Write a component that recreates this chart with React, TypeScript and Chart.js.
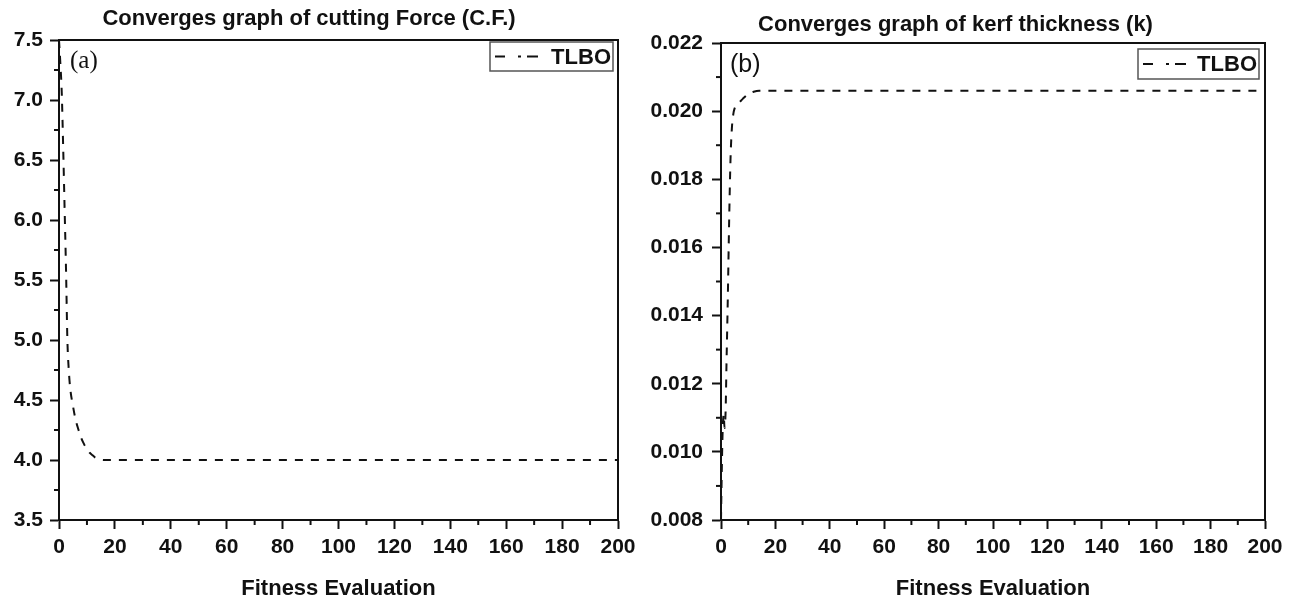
import React, { useEffect, useRef } from "react";
import { Chart, registerables } from "chart.js";
Chart.register(...registerables);

const leftTitle = "Converges graph of cutting Force (C.F.)";
const rightTitle = "Converges graph of kerf thickness (k)";
const xAxisTitle = "Fitness Evaluation";
const seriesLabel = "TLBO";
const leftPanel = "(a)";
const rightPanel = "(b)";

// Left: cutting force convergence
const leftX = [0, 0.5, 1, 1.5, 2, 2.5, 3, 3.5, 4, 5, 6, 7, 8, 9, 10, 11, 12, 13, 14, 16, 20, 200];
const leftY = [7.5, 7.3, 7.05, 6.6, 6.1, 5.6, 5.0, 4.75, 4.6, 4.45, 4.33, 4.25, 4.18, 4.13, 4.09, 4.06, 4.04, 4.02, 4.01, 4.0, 4.0, 4.0];

// Right: kerf thickness convergence
const rightX = [0, 0.3, 0.6, 1.0, 1.3, 1.7, 2.0, 2.5, 3.0, 3.5, 4, 4.5, 5, 6, 7, 8, 10, 12, 14, 200];
const rightY = [0.008, 0.0095, 0.0106, 0.0111, 0.0107, 0.0112, 0.0125, 0.0145, 0.0168, 0.0186, 0.0195, 0.0199, 0.02008, 0.0202, 0.02028, 0.02036, 0.0205, 0.02057, 0.0206, 0.0206];

const FONT = "'Liberation Sans', Arial, sans-serif";

type PanelOpts = {
  title: string;
  xs: number[];
  ys: number[];
  yMin: number;
  yMax: number;
  yStep: number;
  yDecimals: number;
  yAxisWidth: number;
  yLabelPad: number;
  padRight: number;
  titlePadTop: number;
  titlePadBottom: number;
  panel: string;
  panelFont: string;
  panelDx: number;
  panelY: number;
  legend: { insetR: number; insetT: number; w: number; h: number; sampleW: number };
};

function makeConfig(o: PanelOpts): any {
  const decor = {
    id: "decor",
    afterDraw(chart: any) {
      const ctx = chart.ctx;
      const ca = chart.chartArea;
      const xs = chart.scales.x;
      const ys = chart.scales.y;
      ctx.save();
      ctx.strokeStyle = "#111";
      ctx.lineWidth = 2;
      // frame top/right
      ctx.beginPath();
      ctx.moveTo(ca.left, ca.top);
      ctx.lineTo(ca.right, ca.top);
      ctx.lineTo(ca.right, ca.bottom);
      ctx.stroke();
      // minor ticks x
      for (let v = 10; v < 200; v += 20) {
        const p = xs.getPixelForValue(v);
        ctx.beginPath();
        ctx.moveTo(p, ca.bottom);
        ctx.lineTo(p, ca.bottom + 5);
        ctx.stroke();
      }
      // minor ticks y
      const n = Math.round((o.yMax - o.yMin) / o.yStep);
      for (let i = 0; i < n; i++) {
        const v = o.yMin + (i + 0.5) * o.yStep;
        const p = ys.getPixelForValue(v);
        ctx.beginPath();
        ctx.moveTo(ca.left, p);
        ctx.lineTo(ca.left - 5, p);
        ctx.stroke();
      }
      // panel label
      ctx.fillStyle = "#111";
      ctx.font = o.panelFont;
      ctx.textAlign = "left";
      ctx.textBaseline = "middle";
      ctx.fillText(o.panel, ca.left + o.panelDx, o.panelY);
      // legend
      const L = o.legend;
      const r = ca.right - L.insetR;
      const l = r - L.w;
      const t = ca.top + L.insetT;
      ctx.strokeStyle = "#555";
      ctx.lineWidth = 1.5;
      ctx.strokeRect(l, t, L.w, L.h);
      ctx.strokeStyle = "#111";
      ctx.lineWidth = 2;
      ctx.setLineDash([10, 13, 3, 6, 11]);
      ctx.beginPath();
      ctx.moveTo(l + 5, t + L.h / 2);
      ctx.lineTo(l + 5 + L.sampleW, t + L.h / 2);
      ctx.stroke();
      ctx.setLineDash([]);
      ctx.font = `bold 22px ${FONT}`;
      ctx.textAlign = "right";
      ctx.fillText(chart.data.datasets[0].label, r - 2, t + L.h / 2 + 1);
      ctx.restore();
    },
  };

  return {
    type: "line",
    data: {
      datasets: [
        {
          label: seriesLabel,
          data: o.xs.map((x, i) => ({ x, y: o.ys[i] })),
          borderColor: "#111",
          borderWidth: 2,
          borderDash: [8, 8],
          pointRadius: 0,
          fill: false,
          cubicInterpolationMode: "monotone",
        },
      ],
    },
    options: {
      responsive: false,
      animation: false,
      layout: { padding: { left: 0, right: o.padRight, top: 0, bottom: 0 } },
      plugins: {
        legend: { display: false },
        tooltip: { enabled: false },
        title: {
          display: true,
          text: o.title,
          color: "#111",
          font: { family: FONT, size: 22, weight: "bold", lineHeight: 1.2 },
          padding: { top: o.titlePadTop, bottom: o.titlePadBottom },
        },
      },
      scales: {
        x: {
          type: "linear",
          min: 0,
          max: 200,
          afterFit: (s: any) => {
            s.height = 80;
          },
          border: { display: true, color: "#111", width: 2 },
          grid: { display: true, drawOnChartArea: false, drawTicks: true, tickLength: 9, tickColor: "#111", tickWidth: 2 },
          ticks: {
            stepSize: 20,
            padding: 6,
            color: "#111",
            font: { family: FONT, size: 21, weight: "bold" },
            maxRotation: 0,
          },
          title: {
            display: true,
            text: xAxisTitle,
            color: "#111",
            font: { family: FONT, size: 22, weight: "bold", lineHeight: 1 },
            padding: { top: 0, bottom: 0 },
          },
        },
        y: {
          type: "linear",
          min: o.yMin,
          max: o.yMax,
          afterFit: (s: any) => {
            s.width = o.yAxisWidth;
          },
          border: { display: true, color: "#111", width: 2 },
          grid: { display: true, drawOnChartArea: false, drawTicks: true, tickLength: 9, tickColor: "#111", tickWidth: 2 },
          ticks: {
            stepSize: o.yStep,
            padding: o.yLabelPad,
            color: "#111",
            font: { family: FONT, size: 21, weight: "bold" },
            callback: (v: any) => Number(v).toFixed(o.yDecimals),
          },
        },
      },
    },
    plugins: [decor],
  };
}

function Panel({ o, left }: { o: PanelOpts; left: number }) {
  const ref = useRef<HTMLCanvasElement | null>(null);
  useEffect(() => {
    if (!ref.current) return;
    const c = new Chart(ref.current, makeConfig(o));
    return () => c.destroy();
  }, []);
  return (
    <canvas
      ref={ref}
      width={646}
      height={600}
      style={{ position: "absolute", left, top: 0, width: 646, height: 600, display: "block" }}
    />
  );
}

const leftOpts: PanelOpts = {
  title: leftTitle,
  xs: leftX,
  ys: leftY,
  yMin: 3.5,
  yMax: 7.5,
  yStep: 0.5,
  yDecimals: 1,
  yAxisWidth: 59,
  yLabelPad: 7,
  padRight: 28,
  titlePadTop: 6,
  titlePadBottom: 7.6,
  panel: leftPanel,
  panelFont: "25px 'Liberation Serif', 'Times New Roman', serif",
  panelDx: 11,
  panelY: 61,
  legend: { insetR: 5, insetT: 2, w: 123, h: 29, sampleW: 43 },
};

const rightOpts: PanelOpts = {
  title: rightTitle,
  xs: rightX,
  ys: rightY,
  yMin: 0.008,
  yMax: 0.022,
  yStep: 0.002,
  yDecimals: 3,
  yAxisWidth: 75,
  yLabelPad: 9,
  padRight: 27,
  titlePadTop: 12,
  titlePadBottom: 4.6,
  panel: rightPanel,
  panelFont: `25px ${FONT}`,
  panelDx: 9,
  panelY: 65,
  legend: { insetR: 6, insetT: 6, w: 121, h: 30, sampleW: 43 },
};

export default function App() {
  return (
    <div style={{ position: "absolute", left: 0, top: 0, width: 1292, height: 600, background: "#fff", overflow: "hidden" }}>
      <Panel o={leftOpts} left={0} />
      <Panel o={rightOpts} left={646} />
    </div>
  );
}
